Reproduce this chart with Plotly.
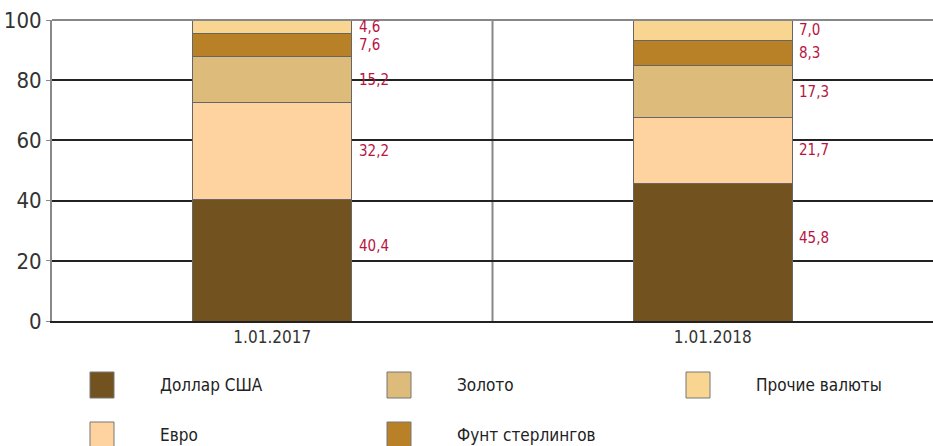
import plotly.graph_objects as go

categories = ["1.01.2017", "1.01.2018"]
series_names = ["Доллар США", "Евро", "Золото", "Фунт стерлингов", "Прочие валюты"]
usd = [40.4, 45.8]
eur = [32.2, 21.7]
gold = [15.2, 17.3]
gbp = [7.6, 8.3]
other = [4.6, 7.0]
values = [usd, eur, gold, gbp, other]
colors = ["#72531f", "#fed39f", "#dcbb7b", "#b88128", "#f9d592"]
label_text = [["40,4", "45,8"], ["32,2", "21,7"], ["15,2", "17,3"], ["7,6", "8,3"], ["4,6", "7,0"]]
y_ticks = [0, 20, 40, 60, 80, 100]

FONT = "DejaVu Sans Condensed, sans-serif"
BAR_W = 0.36
LABEL_COLOR = "#b8143f"

W, H = 933, 446
PL, PT, PB, PR = 52, 20, 446 - 321, 0
PW, PH = W - PL - PR, H - PT - PB

fig = go.Figure()
for name, vals, col in zip(series_names, values, colors):
    fig.add_trace(go.Bar(
        x=list(range(len(categories))), y=vals, name=name, width=BAR_W,
        marker=dict(color=col, line=dict(color="#666666", width=1)),
        showlegend=False, hoverinfo="y+name",
    ))

annotations = []
for ci in range(len(categories)):
    base = 0.0
    for si, vals in enumerate(values):
        v = vals[ci]
        mid = base + v / 2
        base += v
        annotations.append(dict(
            x=ci + BAR_W / 2, y=mid, xref="x", yref="y", text=label_text[si][ci],
            showarrow=False, xanchor="left", yanchor="middle", xshift=5,
            yshift=14 if si == 0 else 0,
            font=dict(family=FONT, size=15, color=LABEL_COLOR),
        ))

legend_cols_x = [90, 387, 686]
legend_rows_y = [385, 435]


def px_x(x):
    return (x - PL) / PW


def px_y(y):
    return (PT + PH - y) / PH


shapes = []
for i, (name, col) in enumerate(zip(series_names, colors)):
    cx = legend_cols_x[i // 2]
    cy = legend_rows_y[i % 2]
    shapes.append(dict(
        type="rect", xref="paper", yref="paper",
        x0=px_x(cx), x1=px_x(cx + 24),
        y0=px_y(cy + 13), y1=px_y(cy - 13),
        fillcolor=col, line=dict(color="#777777", width=1),
    ))
    annotations.append(dict(
        x=px_x(cx + 68), y=px_y(cy), xref="paper", yref="paper",
        text=name, showarrow=False, xanchor="left", yanchor="middle",
        font=dict(family=FONT, size=17, color="#222222"),
    ))

shapes.append(dict(type="line", xref="x", yref="paper", x0=0.5, x1=0.5, y0=0, y1=1,
                   line=dict(color="#888888", width=2), layer="below"))
shapes.append(dict(type="line", xref="paper", yref="paper", x0=0, x1=1, y0=1, y1=1,
                   line=dict(color="#888888", width=2), layer="above"))

fig.update_layout(
    width=W, height=H, barmode="stack",
    margin=dict(l=PL, r=PR, t=PT, b=PB),
    plot_bgcolor="white", paper_bgcolor="white",
    font=dict(family=FONT, size=21, color="#333333"),
    xaxis=dict(range=[-0.5, 1.5], tickvals=list(range(len(categories))), ticktext=categories,
               showgrid=False, zeroline=False, showline=True, linecolor="#222222", linewidth=1.5,
               ticks="", tickfont=dict(size=17, color="#333333")),
    yaxis=dict(range=[0, 100], tickvals=y_ticks, showgrid=True, gridcolor="#222222", gridwidth=1.5,
               zeroline=False, showline=True, linecolor="#888888", linewidth=2,
               ticks="outside", ticklen=4, tickcolor="#888888", ticklabeloverflow="allow",
               tickfont=dict(size=22, color="#333333")),
    shapes=shapes, annotations=annotations,
)
fig.write_html(
    "out.html",
    config={"displayModeBar": False},
    post_script="document.body.style.margin='0';document.documentElement.style.overflow='hidden';",
)
